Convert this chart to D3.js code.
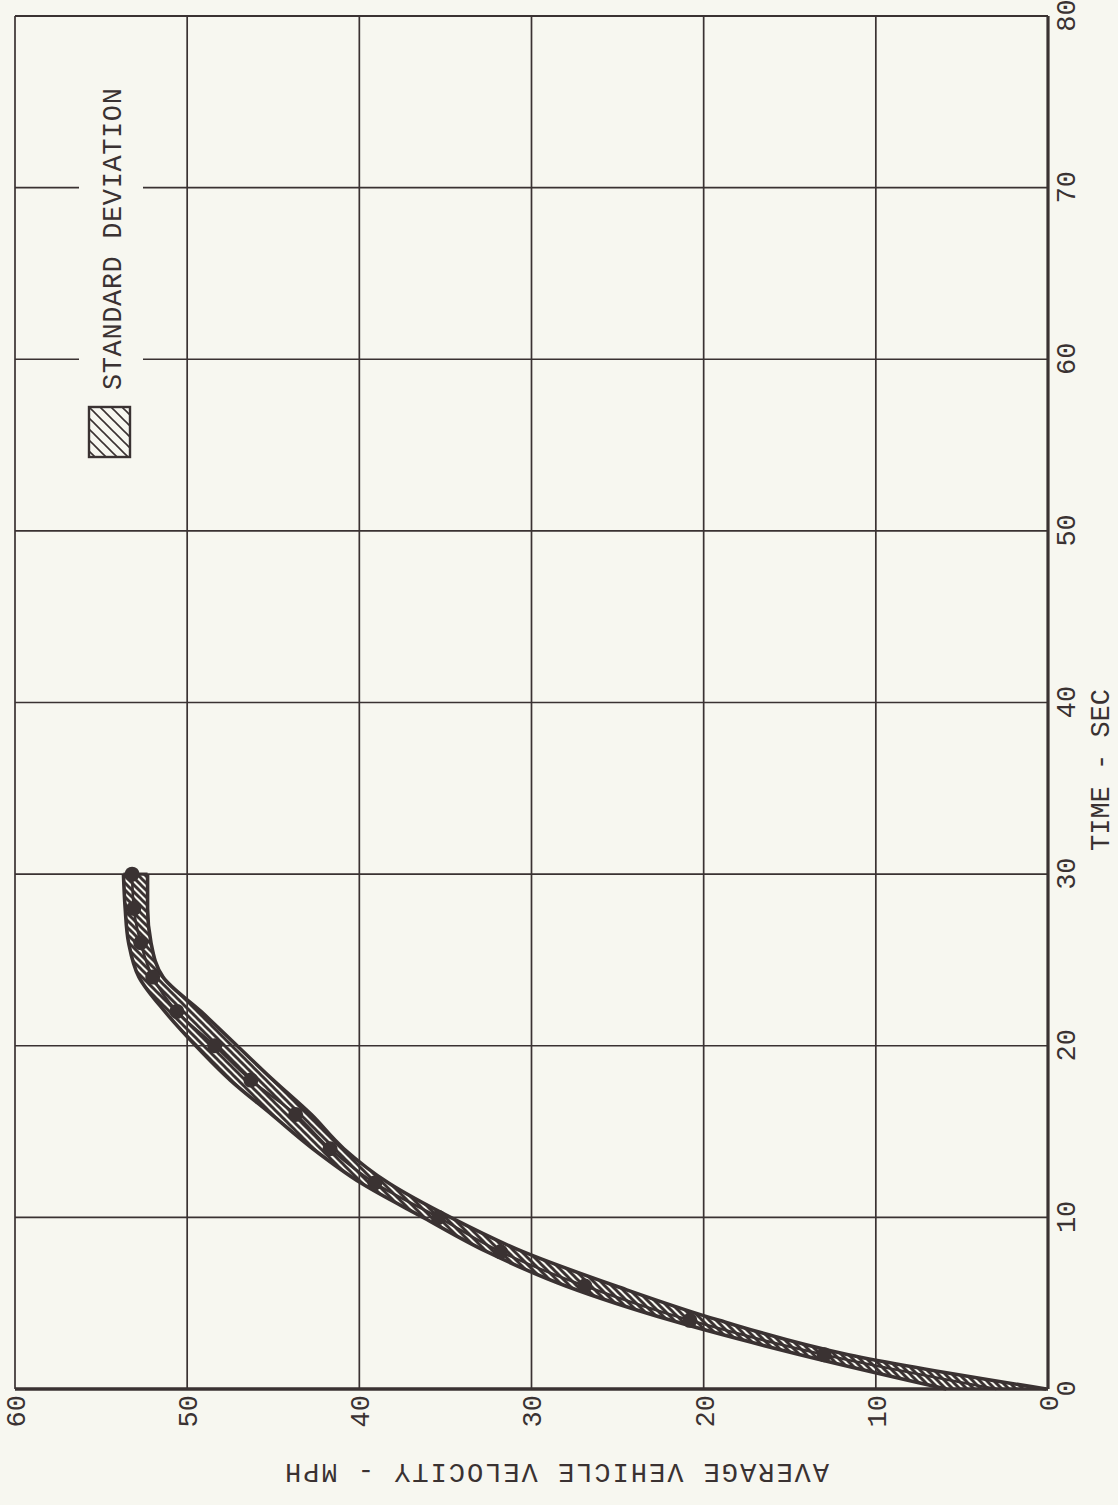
<!DOCTYPE html>
<html>
<head>
<meta charset="utf-8">
<script src="https://cdn.jsdelivr.net/npm/d3@7"></script>
<style>
  html, body { margin: 0; padding: 0; background: #f7f7f0; }
  svg { display: block; }
  text { font-family: "Liberation Mono", "DejaVu Sans Mono", monospace; fill: #3a3232; }
</style>
</head>
<body>
<script>
// Average vehicle velocity vs. time, with standard deviation band
const times    = [0, 2, 4, 6, 8, 10, 12, 14, 16, 18, 20, 22, 24, 26, 28, 30];
const meanVel  = [3.0, 13.0, 20.8, 26.9, 31.8, 35.4, 39.1, 41.7, 43.7, 46.3, 48.4, 50.6, 52.0, 52.7, 53.1, 53.2];
const upperVel = [5.9, 14.4, 21.9, 28.0, 32.6, 36.3, 39.9, 42.7, 45.1, 47.5, 49.5, 51.3, 52.8, 53.4, 53.6, 53.7];
const lowerVel = [0.1, 11.6, 19.1, 25.1, 30.5, 34.7, 38.3, 40.9, 42.8, 45.0, 47.1, 49.2, 51.4, 52.1, 52.3, 52.3];
const markerTimes = [2, 4, 6, 8, 10, 12, 14, 16, 18, 20, 22, 24, 26, 28, 30];

const timeTicks = [0, 10, 20, 30, 40, 50, 60, 70, 80];
const velTicks  = [0, 10, 20, 30, 40, 50, 60];

const timeTitle = "TIME - SEC";
const velTitle  = "AVERAGE VEHICLE VELOCITY - MPH";
const legendLabel = "STANDARD DEVIATION";

const INK = "#3a3232";
const PAPER = "#f7f7f0";
const W = 1373;   // time axis length
const H = 1033;   // velocity axis length

const svg = d3.select("body").append("svg")
  .attr("width", 1118).attr("height", 1505);

const defs = svg.append("defs");
defs.append("pattern")
  .attr("id", "bandHatch")
  .attr("patternUnits", "userSpaceOnUse")
  .attr("width", 7).attr("height", 7)
  .append("path")
  .attr("d", "M-2,2 L2,-2 M0,7 L7,0 M5,9 L9,5")
  .attr("stroke", INK).attr("stroke-width", 3.0);
defs.append("pattern")
  .attr("id", "legendHatch")
  .attr("patternUnits", "userSpaceOnUse")
  .attr("width", 11).attr("height", 11)
  .append("path")
  .attr("d", "M-2,2 L2,-2 M0,11 L11,0 M9,13 L13,9")
  .attr("stroke", INK).attr("stroke-width", 1.6);

// The plot is laid out with time running along x, then turned a quarter turn.
const g = svg.append("g").attr("transform", "translate(15,1389) rotate(-90)");

const x = d3.scaleLinear().domain([0, 80]).range([0, W]);
const y = d3.scaleLinear().domain([0, 60]).range([H, 0]);

// grid
g.append("g").selectAll("line").data(timeTicks).join("line")
  .attr("x1", d => x(d)).attr("x2", d => x(d))
  .attr("y1", 0).attr("y2", H)
  .attr("stroke", INK).attr("stroke-width", d => d === 80 ? 2 : 1.7);
g.append("g").selectAll("line").data(velTicks).join("line")
  .attr("x1", 0).attr("x2", W)
  .attr("y1", d => y(d)).attr("y2", d => y(d))
  .attr("stroke", INK).attr("stroke-width", 1.7);

// main axes (heavier)
g.append("line").attr("x1", 0).attr("x2", W).attr("y1", y(0)).attr("y2", y(0))
  .attr("stroke", INK).attr("stroke-width", 3.2);
g.append("line").attr("x1", x(0)).attr("x2", x(0)).attr("y1", 0).attr("y2", H)
  .attr("stroke", INK).attr("stroke-width", 3.6);

// tick labels
const xAxis = g.append("g").attr("transform", `translate(0,${H})`)
  .call(d3.axisBottom(x).tickValues(timeTicks).tickSize(0).tickFormat(d3.format("d")));
xAxis.select(".domain").remove();
xAxis.selectAll("text").attr("y", 18).attr("dy", "0.35em")
  .style("font-family", "Liberation Mono").style("font-size", "27px").attr("fill", INK);

const yAxis = g.append("g")
  .call(d3.axisLeft(y).tickValues(velTicks).tickSize(0).tickPadding(6).tickFormat(d3.format("d")));
yAxis.select(".domain").remove();
yAxis.selectAll("text").attr("dy", "0.35em")
  .style("font-family", "Liberation Mono").style("font-size", "27px").attr("fill", INK);

// axis titles
g.append("text").attr("x", 619).attr("y", H + 52).attr("dy", "0.35em")
  .attr("text-anchor", "middle").style("font-size", "27px").text(timeTitle);
g.append("text").attr("transform", `translate(-84,541) rotate(-90)`).attr("dy", "0.35em")
  .attr("text-anchor", "middle").style("font-size", "27px").style("letter-spacing", "2px")
  .text(velTitle);

// standard deviation band
const band = times.map((t, i) => ({ t, hi: upperVel[i], lo: lowerVel[i], m: meanVel[i] }));
const area = d3.area().curve(d3.curveMonotoneX)
  .x(d => x(d.t)).y0(d => y(d.lo)).y1(d => y(d.hi));
const edge = key => d3.line().curve(d3.curveMonotoneX).x(d => x(d.t)).y(d => y(d[key]));

g.append("path").datum(band).attr("d", area).attr("fill", "url(#bandHatch)");
g.append("path").datum(band).attr("d", edge("hi")).attr("fill", "none")
  .attr("stroke", INK).attr("stroke-width", 3.6).attr("stroke-linejoin", "round");
g.append("path").datum(band).attr("d", edge("lo")).attr("fill", "none")
  .attr("stroke", INK).attr("stroke-width", 3.6).attr("stroke-linejoin", "round");
g.append("path").datum(band).attr("d", edge("m")).attr("fill", "none")
  .attr("stroke", INK).attr("stroke-width", 2.6);
// close the band at 30 s
const last = band[band.length - 1];
g.append("line").attr("x1", x(last.t)).attr("x2", x(last.t))
  .attr("y1", y(last.hi)).attr("y2", y(last.lo))
  .attr("stroke", INK).attr("stroke-width", 3.2);

// mean points
g.append("g").selectAll("circle").data(band.filter(d => markerTimes.includes(d.t))).join("circle")
  .attr("cx", d => x(d.t)).attr("cy", d => y(d.m)).attr("r", 7.5).attr("fill", INK);

// legend
const legend = g.append("g");
legend.append("rect").attr("x", 992).attr("y", 64).attr("width", 318).attr("height", 64)
  .attr("fill", PAPER);
legend.append("rect").attr("x", 932).attr("y", 74).attr("width", 50).attr("height", 41)
  .attr("fill", "url(#legendHatch)").attr("stroke", INK).attr("stroke-width", 2.4);
legend.append("text").attr("x", 999).attr("y", 97).attr("dy", "0.35em")
  .style("font-size", "27px").style("letter-spacing", "0.6px").text(legendLabel);
</script>
</body>
</html>
